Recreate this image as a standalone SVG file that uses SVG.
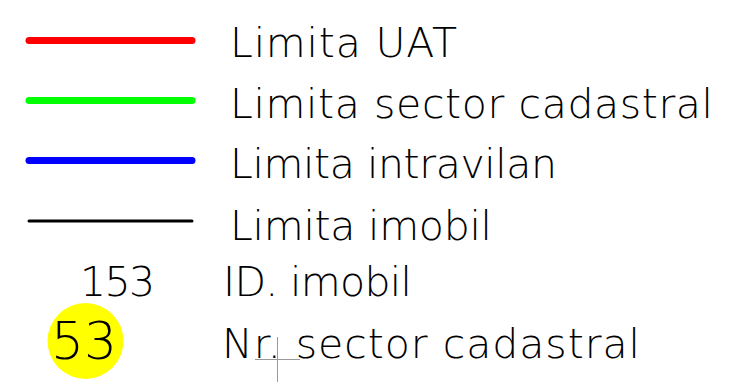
<svg xmlns="http://www.w3.org/2000/svg" width="731" height="383" viewBox="0 0 731 383">
<style>
.t{font-family:"DejaVu Sans","Liberation Sans",sans-serif;font-size:41px;font-weight:200;fill:#000}
.ln{stroke-linecap:round;fill:none}
</style>
<rect width="731" height="383" fill="#fff"/>
<g id="connectors">
<line class="ln" x1="29" y1="40.5" x2="192" y2="40.5" stroke="#ff0000" stroke-width="7"/>
<line class="ln" x1="29" y1="100.5" x2="192" y2="100.5" stroke="#00ff00" stroke-width="7"/>
<line class="ln" x1="29" y1="160.5" x2="192" y2="160.5" stroke="#0000ff" stroke-width="7"/>
<line class="ln" x1="29" y1="221" x2="192" y2="221" stroke="#000" stroke-width="3"/>
</g>
<g id="uat"><text class="t" x="230" y="57" textLength="227" lengthAdjust="spacing">Limita UAT</text></g>
<g id="sector"><text class="t" x="230" y="118" textLength="483" lengthAdjust="spacing">Limita sector cadastral</text></g>
<g id="intravilan"><text class="t" x="230" y="178" textLength="327" lengthAdjust="spacing">Limita intravilan</text></g>
<g id="imobil"><text class="t" x="230" y="240" textLength="262" lengthAdjust="spacing">Limita imobil</text></g>
<g id="id"><text class="t" x="80" y="296" textLength="75" lengthAdjust="spacing">153</text><text class="t" x="223" y="296" textLength="189" lengthAdjust="spacing">ID. imobil</text></g>
<g id="nr">
<circle cx="85.5" cy="341" r="38" fill="#ffff00"/>
<text class="t" x="51" y="359" style="font-size:52px" textLength="66" lengthAdjust="spacingAndGlyphs">53</text>
<text class="t" x="222" y="358" textLength="418" lengthAdjust="spacing">Nr. sector cadastral</text>
</g>
<g id="cursor" stroke="#999" stroke-width="1">
<line x1="255" y1="359.5" x2="300" y2="359.5"/>
<line x1="277.5" y1="337" x2="277.5" y2="382"/>
</g>
</svg>
